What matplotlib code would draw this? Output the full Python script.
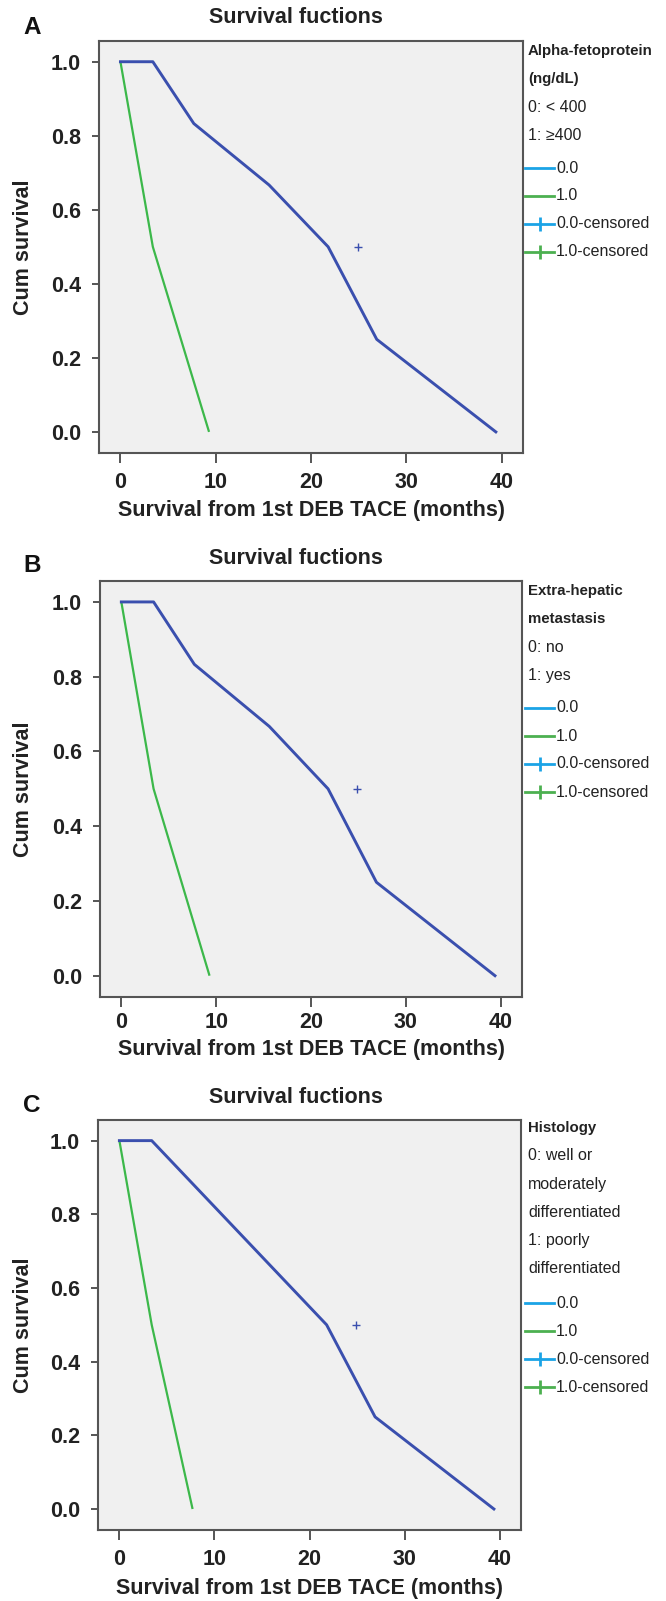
import matplotlib
matplotlib.use("Agg")
import matplotlib.pyplot as plt
from matplotlib.lines import Line2D

plt.rcParams['font.family'] = ['Liberation Sans', 'DejaVu Sans']

# ---------------- data ----------------
panel_letters = ["A", "B", "C"]
title_text = "Survival fuctions"
xlabel_text = "Survival from 1st DEB TACE (months)"
ylabel_text = "Cum survival"
x_ticks = [0, 10, 20, 30, 40]
y_ticks = [0.0, 0.2, 0.4, 0.6, 0.8, 1.0]

# group 0.0
time_A0 = [0, 3.4, 7.7, 15.6, 21.8, 26.9, 39.4]
surv_A0 = [1.0, 1.0, 0.833, 0.667, 0.5, 0.25, 0.0]
time_A1 = [0, 3.4, 9.3]
surv_A1 = [1.0, 0.5, 0.0]
cens_A0 = ([24.9], [0.5])

time_B0 = [0, 3.4, 7.7, 15.6, 21.8, 26.9, 39.4]
surv_B0 = [1.0, 1.0, 0.833, 0.667, 0.5, 0.25, 0.0]
time_B1 = [0, 3.4, 9.3]
surv_B1 = [1.0, 0.5, 0.0]
cens_B0 = ([24.9], [0.5])

time_C0 = [0, 3.4, 21.8, 26.9, 39.4]
surv_C0 = [1.0, 1.0, 0.5, 0.25, 0.0]
time_C1 = [0, 3.4, 7.7]
surv_C1 = [1.0, 0.5, 0.0]
cens_C0 = ([24.9], [0.5])

legend_heads = [
    [("Alpha-fetoprotein", True), ("(ng/dL)", True), ("0: < 400", False), ("1: \u2265400", False)],
    [("Extra-hepatic", True), ("metastasis", True), ("0: no", False), ("1: yes", False)],
    [("Histology", True), ("0: well or", False), ("moderately", False), ("differentiated", False),
     ("1: poorly", False), ("differentiated", False)],
]
legend_entries = ["0.0", "1.0", "0.0-censored", "1.0-censored"]

# ---------------- style / layout ----------------
W, H = 666, 1601
fig = plt.figure(figsize=(W / 100, H / 100), dpi=100)

BLUE = "#3a4fae"
GREEN = "#3cb84a"
LEG_BLUE = "#1ba3e6"
LEG_GREEN = "#4cb050"
SPINE = "#555555"

def fx(x):
    return x / W

def fy(y):
    return 1 - y / H

# (left, top, right, bottom) in px
boxes = [(99, 41, 523, 453), (100, 581, 522, 997), (98, 1120, 521, 1530)]
title_y = [17.6, 558.7, 1097.4]
letter_y = [27, 566, 1105]
xlabel_y = [510.5, 1049, 1588]
xtick_pad = [6.0, 3.0, 6.5]
legend_gap = [33, 33, 35]

series = [
    (time_A0, surv_A0, time_A1, surv_A1, cens_A0),
    (time_B0, surv_B0, time_B1, surv_B1, cens_B0),
    (time_C0, surv_C0, time_C1, surv_C1, cens_C0),
]

for i in range(3):
    l, t, r, b = boxes[i]
    ax = fig.add_axes([fx(l), fy(b), (r - l) / W, (b - t) / H])
    ax.set_facecolor("#f0f0f0")
    t0, s0, t1, s1, c0 = series[i]
    ax.plot(t1, s1, color=GREEN, lw=1.6, solid_capstyle='butt', zorder=3)
    ax.plot(t0, s0, color=BLUE, lw=2.1, solid_joinstyle='round', zorder=4)
    ax.plot(c0[0], c0[1], linestyle='none', marker='+', color=BLUE, ms=5.5, mew=1.0, zorder=5)
    ax.set_xlim(-2.25, 42.25)
    ax.set_ylim(-0.057, 1.056)
    ax.set_xticks(x_ticks)
    ax.set_yticks(y_ticks)
    ax.set_yticklabels([f"{v:.1f}" for v in y_ticks])
    for sp in ax.spines.values():
        sp.set_color(SPINE)
        sp.set_linewidth(1.5)
    ax.tick_params(axis='y', direction='out', length=5, width=1.4, color=SPINE, pad=8,
                   labelsize=15.5)
    ax.tick_params(axis='x', direction='out', length=7.5, width=1.4, color=SPINE,
                   pad=xtick_pad[i], labelsize=15.5)
    for lab in ax.get_xticklabels() + ax.get_yticklabels():
        lab.set_fontweight('bold')
        lab.set_color('#222222')

    # title, letter, axis labels
    fig.text(fx(296), fy(title_y[i]), title_text, ha='center', va='center',
             fontsize=15.5, fontweight='bold', color='#222222')
    fig.text(fx(32), fy(letter_y[i]), panel_letters[i], ha='center', va='center',
             fontsize=17.5, fontweight='bold', color='#111111')
    fig.text(fx((l + r) / 2), fy(xlabel_y[i]), xlabel_text, ha='center', va='center',
             fontsize=15.5, fontweight='bold', color='#222222')
    fig.text(fx(23.5), fy((t + b) / 2), ylabel_text, ha='center', va='center',
             rotation=90, fontsize=15.5, fontweight='bold', color='#222222')

    # legend (outside right)
    y = t + (10 if i < 2 else 8)
    for txt, bold in legend_heads[i]:
        fig.text(fx(528), fy(y), txt, ha='left', va='center',
                 fontsize=10.8 if bold else 11.5,
                 fontweight='bold' if bold else 'normal', color='#222222')
        y += 28
    y += legend_gap[i] - 28
    cols = [LEG_BLUE, LEG_GREEN, LEG_BLUE, LEG_GREEN]
    for k, name in enumerate(legend_entries):
        yy = fy(y)
        fig.add_artist(Line2D([fx(525), fx(554)], [yy, yy], color=cols[k], lw=2.0,
                              transform=fig.transFigure))
        if k >= 2:
            fig.add_artist(Line2D([fx(540)], [yy], marker='|', ms=9.5, mew=2.0,
                                  color=cols[k], linestyle='none', transform=fig.transFigure))
        fig.text(fx(556), yy, name, ha='left', va='center', fontsize=11.5, color='#222222')
        y += 28

fig.savefig("out.png", dpi=100, facecolor='white')
